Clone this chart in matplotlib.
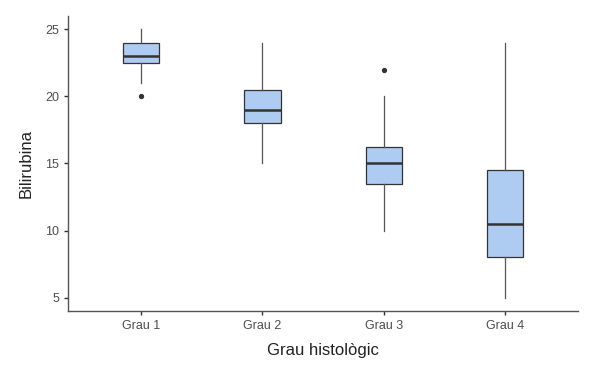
import matplotlib
matplotlib.use("Agg")
import matplotlib.pyplot as plt

plt.rcParams['font.family'] = ['Liberation Sans', 'DejaVu Sans']

groups = ["Grau 1", "Grau 2", "Grau 3", "Grau 4"]
whislo = [21, 15, 10, 5]
q1 = [22.5, 18, 13.5, 8]
med = [23, 19, 15, 10.5]
q3 = [24, 20.5, 16.25, 14.5]
whishi = [25, 24, 20, 24]
outliers = [[20], [], [22], []]

stats = []
for i, g in enumerate(groups):
    stats.append(dict(label=g, whislo=whislo[i], q1=q1[i], med=med[i],
                      q3=q3[i], whishi=whishi[i], fliers=outliers[i]))

fig, ax = plt.subplots(figsize=(5.96, 3.78), dpi=100)
fig.subplots_adjust(left=0.114, right=0.97, top=0.958, bottom=0.177)

ax.bxp(stats, positions=range(1, 5), widths=0.3, patch_artist=True,
       showcaps=False,
       boxprops=dict(facecolor="#aecbf2", edgecolor="#333333", linewidth=0.9),
       medianprops=dict(color="#333333", linewidth=1.8),
       whiskerprops=dict(color="#555555", linewidth=0.9),
       flierprops=dict(marker="o", markerfacecolor="#333333",
                       markeredgecolor="#333333", markersize=2.8))

ax.set_xlim(0.4, 4.6)
ax.set_ylim(4, 26)
ax.set_yticks([5, 10, 15, 20, 25])
ax.set_xticks(range(1, 5))
ax.set_xticklabels(groups)

for s in ["top", "right"]:
    ax.spines[s].set_visible(False)
for s in ["left", "bottom"]:
    ax.spines[s].set_color("#555555")
    ax.spines[s].set_linewidth(1.0)
ax.tick_params(colors="#333333", labelcolor="#4d4d4d", labelsize=9, length=3, width=1)

ax.set_xlabel("Grau histològic", fontsize=12, color="#222222", labelpad=8)
ax.set_ylabel("Bilirubina", fontsize=12, color="#222222", labelpad=8)

fig.savefig("out.png", dpi=100)
